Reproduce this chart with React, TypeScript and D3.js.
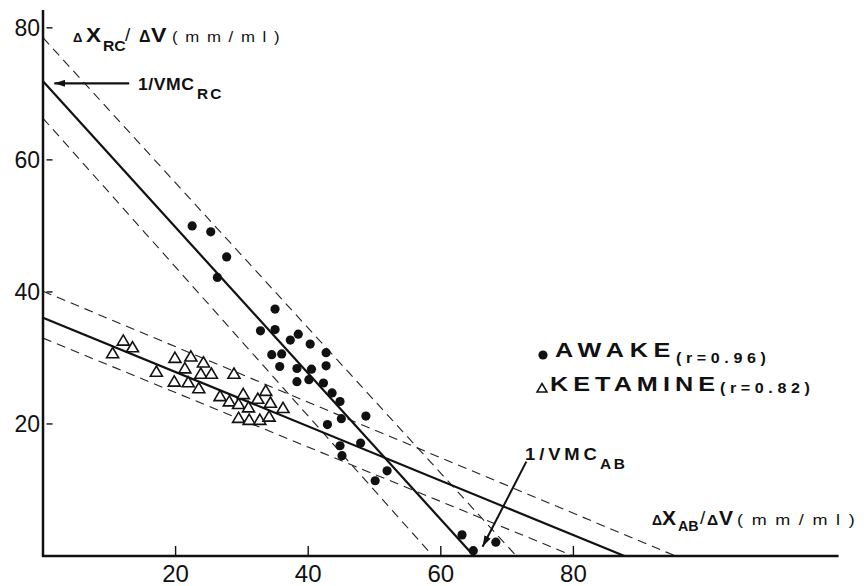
import * as d3 from 'd3'

const W = 868
const H = 586
const FONT = '"Liberation Sans", Arial, Helvetica, sans-serif'

const xTicks = [20, 40, 60, 80]
const yTicks = [20, 40, 60, 80]

// awake (filled dots)
const awakeX = [22.5, 25.3, 27.7, 26.3, 35.0, 32.8, 35.0, 38.5, 37.3, 40.3, 42.7, 34.5, 36.0, 42.7, 35.7, 38.3, 40.5,
  38.3, 40.1, 42.3, 43.6, 44.8, 42.9, 45.0, 48.7, 44.8, 45.1, 47.9, 51.9, 50.1, 63.2, 64.9, 68.3]
const awakeY = [50.0, 49.1, 45.3, 42.2, 37.4, 34.1, 34.3, 33.6, 32.7, 32.1, 30.8, 30.5, 30.6, 28.8, 28.7, 28.4, 28.3,
  26.4, 26.7, 26.2, 24.7, 23.4, 19.9, 20.8, 21.2, 16.7, 15.2, 17.1, 12.9, 11.4, 3.2, 0.8, 2.1]

// ketamine (open triangles)
const ketX = [19.9, 22.3, 24.2, 21.4, 17.1, 23.8, 25.4, 28.8, 19.8, 21.9, 23.5, 26.7, 28.1, 30.2, 33.6, 32.4, 34.3,
  29.5, 31.0, 36.2, 29.5, 31.1, 32.7, 34.1, 12.1, 13.5, 10.5]
const ketY = [30.0, 30.2, 29.3, 28.4, 27.9, 27.6, 27.6, 27.6, 26.4, 26.3, 25.4, 24.2, 23.4, 24.5, 25.0, 23.8, 23.2,
  23.0, 22.5, 22.4, 20.9, 20.6, 20.6, 21.1, 32.6, 31.6, 30.7]

// lines as [y-intercept, x-intercept]
const awakeFit: [number, number] = [71.9, 65]
const awakeBand: [number, number][] = [[78.5, 71.4], [66.3, 58.8]]
const ketFit: [number, number] = [36.1, 87.7]
const ketBand: [number, number][] = [[40.1, 95.4], [33, 80]]

// annotation arrows [from, to]
const rcArrow = [[13, 71.6], [1.7, 71.6]]
const abArrow = [[72.9, 14.3], [66.3, 1.4]]

// stretched text, like the wide typewriter-ish lettering of the original
function Lbl({ x, y, size, sx = 1, ls = 0, bold = true, children }: any) {
  return (
    <text transform={`translate(${x},${y}) scale(${sx},1)`} fontSize={size} letterSpacing={ls}
      fontWeight={bold ? 'bold' : 'normal'} fill="#111">{children}</text>
  )
}

export default function App() {
  const x = d3.scaleLinear().domain([0, 120]).range([43, 838.6])
  const y = d3.scaleLinear().domain([0, 82.7]).range([556, 10])
  const line = d3.line<number[]>().x(d => x(d[0])).y(d => y(d[1]))
  const seg = (f: [number, number]) => line([[0, f[0]], [f[1], 0]]) as string
  const tri = 'M0,-5.8L6,4.4L-6,4.4Z'

  return (
    <div style={{ position: 'absolute', left: 0, top: 0 }}>
      <svg width={W} height={H} style={{ display: 'block', background: '#fff' }} fontFamily={FONT}>
        <defs>
          <marker id="ah" viewBox="0 0 11 7" refX="11" refY="3.5" markerWidth="11" markerHeight="7"
            markerUnits="userSpaceOnUse" orient="auto">
            <path d="M0,0L11,3.5L0,7Z" fill="#111" />
          </marker>
        </defs>

        {/* band lines */}
        {[...awakeBand, ...ketBand].map((b, i) => (
          <path key={'b' + i} d={seg(b)} fill="none" stroke="#222" strokeWidth={1.1} strokeDasharray="9,6" />
        ))}
        {/* fits */}
        <path d={seg(awakeFit)} fill="none" stroke="#111" strokeWidth={2.2} />
        <path d={seg(ketFit)} fill="none" stroke="#111" strokeWidth={2.2} />

        {/* axes */}
        <line x1={x(0)} x2={x(0)} y1={y(0) + 1} y2={y(82.7)} stroke="#111" strokeWidth={2.5} />
        <line x1={x(0) - 1} x2={x(120)} y1={y(0)} y2={y(0)} stroke="#111" strokeWidth={2.5} />
        {xTicks.map(t => (
          <g key={'xt' + t}>
            <line x1={x(t)} x2={x(t)} y1={y(0)} y2={y(0) - 10} stroke="#111" strokeWidth={1.4} />
            <text x={x(t)} y={y(0) + 26} textAnchor="middle" fontSize={24} fill="#111">{t}</text>
          </g>
        ))}
        {yTicks.map(t => (
          <g key={'yt' + t}>
            <line x1={x(0) + 3.5} x2={x(0) + 9.5} y1={y(t)} y2={y(t)} stroke="#111" strokeWidth={1.4} />
            <text x={x(0) - 3} y={y(t) + 8.5} textAnchor="end" fontSize={23} fill="#111">{t}</text>
          </g>
        ))}

        {/* points */}
        {ketX.map((v, i) => (
          <path key={'k' + i} d={tri} transform={`translate(${x(v)},${y(ketY[i])})`}
            fill="#fff" stroke="#111" strokeWidth={1.6} />
        ))}
        {awakeX.map((v, i) => (
          <circle key={'a' + i} cx={x(v)} cy={y(awakeY[i])} r={4.6} fill="#111" />
        ))}

        {/* arrows */}
        <path d={line(rcArrow) as string} stroke="#111" strokeWidth={2.2} fill="none" markerEnd="url(#ah)" />
        <path d={line(abArrow) as string} stroke="#111" strokeWidth={2} fill="none" markerEnd="url(#ah)" />

        {/* y-axis title */}
        <Lbl x={73} y={42} size={13}>Δ</Lbl>
        <Lbl x={86} y={42.3} size={20.5} sx={1.1}>X</Lbl>
        <Lbl x={103} y={51} size={15} sx={1.05}>RC</Lbl>
        <Lbl x={125} y={41} size={19} bold={false}>/</Lbl>
        <Lbl x={139} y={42} size={16}>Δ</Lbl>
        <Lbl x={151} y={42.3} size={21} sx={1.1}>V</Lbl>
        <Lbl x={172} y={41.5} size={14} sx={1.2} ls={6.4} bold={false}>(mm/ml)</Lbl>

        {/* x-axis title */}
        <Lbl x={652} y={525} size={14}>Δ</Lbl>
        <Lbl x={662} y={525} size={21}>X</Lbl>
        <Lbl x={678} y={530.5} size={15} sx={0.95}>AB</Lbl>
        <Lbl x={700} y={524} size={19} bold={false}>/</Lbl>
        <Lbl x={707} y={525} size={15.5}>Δ</Lbl>
        <Lbl x={719} y={525} size={21}>V</Lbl>
        <Lbl x={737} y={524.5} size={15} sx={1.2} ls={7.2} bold={false}>(mm/ml)</Lbl>

        {/* annotations */}
        <Lbl x={138} y={90} size={16} sx={1.1} ls={0.5}>1/VMC</Lbl>
        <Lbl x={197} y={98.5} size={14} sx={1.1} ls={2}>RC</Lbl>
        <Lbl x={525} y={460} size={16} sx={1.15} ls={3.4}>1/VMC</Lbl>
        <Lbl x={600} y={468.5} size={14} sx={1.1} ls={2.5}>AB</Lbl>

        {/* legend */}
        <circle cx={543} cy={355} r={4.6} fill="#111" />
        <Lbl x={555} y={357} size={21} sx={1.2} ls={4.8}>AWAKE</Lbl>
        <Lbl x={676} y={363} size={14} sx={1.15} ls={4}>(r=0.96)</Lbl>
        <path d="M0,-4.5L5,4L-5,4Z" transform="translate(542,388)" fill="#fff" stroke="#111" strokeWidth={1.5} />
        <Lbl x={550} y={391} size={21} sx={1.2} ls={4.2}>KETAMINE</Lbl>
        <Lbl x={720} y={393} size={14} sx={1.15} ls={4}>(r=0.82)</Lbl>
      </svg>
    </div>
  )
}
